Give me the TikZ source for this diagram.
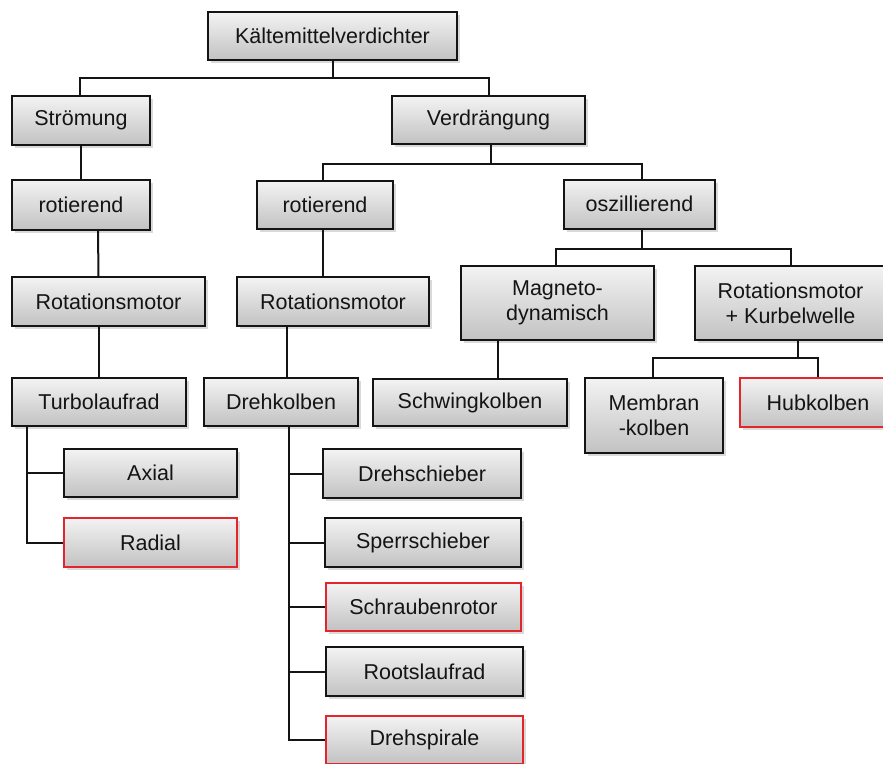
\documentclass[tikz,border=0pt]{standalone}
\usepackage{fontspec}
\setmainfont{Liberation Sans}
\usepackage{tikz}
\usetikzlibrary{calc,shadows}
\definecolor{cInk}{HTML}{141414}
\definecolor{cRed}{HTML}{E3262B}
\definecolor{cTop}{HTML}{F3F3F3}
\definecolor{cBot}{HTML}{C2C2C2}
\tikzset{
  gbox/.style={draw=#1,line width=2pt,top color=cTop,bottom color=cBot,
    drop shadow={shadow xshift=3pt,shadow yshift=-3pt,opacity=0.3},
    align=center,text=cInk,font=\fontsize{21.5}{25}\selectfont,inner sep=0pt},
  gbox/.default=cInk,
  wh/.style 2 args={minimum width=#1pt,minimum height=#2pt},
  conn/.style={line width=2pt,draw=cInk},
}

\begin{document}
\begin{tikzpicture}[x=1pt,y=-1pt]
  \useasboundingbox (0,0) rectangle (883,763);
  % top levels
  \node[gbox,wh={249}{48}] (root) at (332.5,36) {Kältemittelverdichter};
  \node[gbox,wh={138}{49}] (stroem) at (81,120.5) {Strömung};
  \node[gbox,wh={193}{48}] (verdr) at (488.5,120) {Verdrängung};
  \node[gbox,wh={138}{50}] (rot1) at (81,205) {rotierend};
  \node[gbox,wh={136}{48}] (rot2) at (325,205) {rotierend};
  \node[gbox,wh={151}{49}] (osz) at (639.5,204) {oszillierend};
  % drives
  \node[gbox,wh={193}{49}] (rmot1) at (108.5,301.5) {Rotationsmotor};
  \node[gbox,wh={192}{49}] (rmot2) at (333,301.5) {Rotationsmotor};
  \node[gbox,wh={193}{74}] (magneto) at (557.5,303) {Magneto-\\dynamisch};
  \node[gbox,wh={191}{74}] (kurbel) at (790.5,303) {Rotationsmotor\\+ Kurbelwelle};
  % principles
  \node[gbox,wh={174}{48}] (turbo) at (99,402) {Turbolaufrad};
  \node[gbox,wh={154}{48}] (drehk) at (281,402) {Drehkolben};
  \node[gbox,wh={194}{47}] (schwing) at (470,402.5) {Schwingkolben};
  \node[gbox,wh={138}{75}] (membran) at (654,415.5) {Membran\\-kolben};
  \node[gbox=cRed,wh={156}{49}] (hub) at (818,402.5) {Hubkolben};
  % designs
  \node[gbox,wh={173}{48}] (axial) at (150.5,473) {Axial};
  \node[gbox=cRed,wh={173}{49}] (radial) at (150.5,542.5) {Radial};
  \node[gbox,wh={198}{49}] (drehsch) at (422,473.5) {Drehschieber};
  \node[gbox,wh={196}{49}] (sperr) at (423,542.5) {Sperrschieber};
  \node[gbox=cRed,wh={195}{48}] (schraub) at (423.5,607) {Schraubenrotor};
  \node[gbox,wh={197}{49}] (roots) at (424.5,671.5) {Rootslaufrad};
  \node[gbox=cRed,wh={197}{48}] (drehsp) at (424.5,740) {Drehspirale};

  % connectors
  \draw[conn] (root.south) -- ++(0,17) coordinate (j0);
  \draw[conn] ([xshift=-1pt]stroem.north) |- (j0) -| (verdr.north);
  \draw[conn] (stroem) -- (rot1);
  \draw[conn] ([xshift=17pt]rot1.south) -- ([xshift=-10pt]rmot1.north);
  \draw[conn] (turbo.north |- rmot1.south) -- (turbo.north);
  \coordinate (t0) at ([xshift=16pt]turbo.south west);
  \draw[conn] (t0) |- (radial.west);
  \draw[conn] (t0 |- axial.west) -- (axial.west);

  \draw[conn] ([xshift=2pt]verdr.south) -- ++(0,19) coordinate (j1);
  \draw[conn] ([xshift=-2pt]rot2.north) |- (j1) -| ([xshift=2pt]osz.north);
  \draw[conn] ([xshift=-2pt]rot2.south) -- ([xshift=-2pt]rot2.south |- rmot2.north);
  \draw[conn] ([xshift=6pt]drehk.north) -- ([xshift=6pt]drehk.north |- rmot2.south);
  \coordinate (d0) at ([xshift=8pt]drehk.south);
  \draw[conn] (d0) |- (drehsp.west);
  \foreach \n in {drehsch,sperr,schraub,roots}
    \draw[conn] (d0 |- \n.west) -- (\n.west);

  \draw[conn] ([xshift=2pt]osz.south) -- ++(0,19) coordinate (j2);
  \draw[conn] ([xshift=-2pt]magneto.north) |- (j2) -| (kurbel.north);
  \draw[conn] ([xshift=28pt]schwing.north) -- ([xshift=28pt]schwing.north |- magneto.south);
  \draw[conn] ([xshift=7pt]kurbel.south) -- ++(0,17) coordinate (j3);
  \draw[conn] ([xshift=-1pt]membran.north) |- (j3) -| (hub.north);
\end{tikzpicture}
\end{document}
